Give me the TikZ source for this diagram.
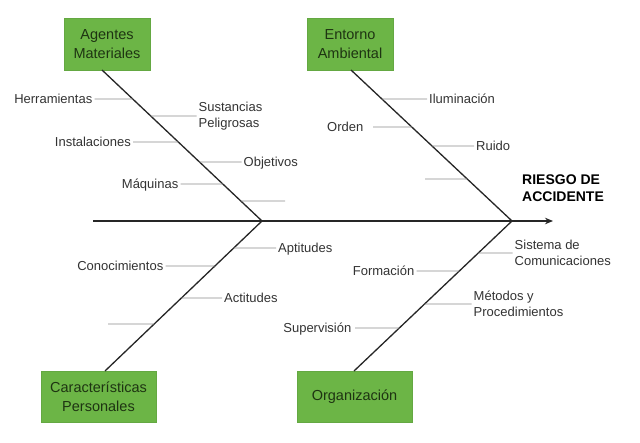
\documentclass[tikz,border=0pt]{standalone}
\usepackage{fontspec}
\setmainfont{Liberation Sans}
\usetikzlibrary{calc,arrows.meta}
\definecolor{boxgreen}{HTML}{6CB546}
\definecolor{boxedge}{HTML}{64A842}
\definecolor{cattext}{HTML}{1E3412}
\definecolor{lblcol}{HTML}{333333}
\definecolor{bonecol}{HTML}{262626}
\definecolor{twigcol}{HTML}{8C8C8C}
\tikzset{
  cat/.style={draw=boxedge, line width=0.8pt, fill=boxgreen, text=cattext,
    font=\fontsize{14.5}{19}\selectfont, align=center, inner sep=0pt},
  lbl/.style={font=\fontsize{13}{16.5}\selectfont, text=lblcol, inner sep=2pt,
    text height=9.4pt, text depth=0pt},
  mlbl/.style={font=\fontsize{13}{16.5}\selectfont, text=lblcol, inner sep=2pt, align=left},
  bone/.style={line width=1.3pt, draw=bonecol},
  twig/.style={line width=0.8pt, draw=twigcol},
  title/.style={font=\fontsize{14}{16.5}\selectfont\bfseries, text=black, align=left, inner sep=0pt}
}
\begin{document}
\begin{tikzpicture}[x=1pt,y=-1pt]
\useasboundingbox (0,0) rectangle (640,443);
\fill[white] (0,0) rectangle (640,443);

% category boxes
\node[cat, minimum width=86pt, minimum height=52pt] (AM) at (107,44) {Agentes\\Materiales};
\node[cat, minimum width=86pt, minimum height=52pt] (EA) at (350,44) {Entorno\\Ambiental};
\node[cat, minimum width=115pt, minimum height=51pt] (CP) at (98.5,396.5) {Características\\Personales};
\node[cat, minimum width=115pt, minimum height=51pt] (OR) at (354.5,396.5) {Organización};

% spine
\coordinate (tail) at (93,221);
\coordinate (head) at (553,221);
\coordinate (j1) at (262,221);
\coordinate (j2) at (512,221);
\draw[bone, -{Stealth[length=8pt,width=6.5pt]}] (tail) -- (head);

% bone start points on boxes
\coordinate (s1) at (102,70);
\coordinate (s2) at (351,70);
\coordinate (s3) at (105,371);
\coordinate (s4) at (354,371);
\draw[bone] (s1) -- (j1);
\draw[bone] (s2) -- (j2);
\draw[bone] (j1) -- (s3);
\draw[bone] (j2) -- (s4);

% title
\node[title, anchor=west] (RA) at (522,188) {RIESGO DE\\ACCIDENTE};

% --- Agentes Materiales
\node[lbl, anchor=east] (herr) at (94.5,99) {Herramientas};
\draw[twig] (herr.east) -- ($(s1)!0.1921!(j1)$);
\node[mlbl, anchor=west] (sust) at (196.5,116) {Sustancias\\Peligrosas};
\draw[twig] ($(s1)!0.3046!(j1)$) -- (sust.west);
\node[lbl, anchor=east] (inst) at (133,142) {Instalaciones};
\draw[twig] (inst.east) -- ($(s1)!0.4768!(j1)$);
\node[lbl, anchor=west] (obj) at (241.5,162) {Objetivos};
\draw[twig] ($(s1)!0.6093!(j1)$) -- (obj.west);
\node[lbl, anchor=east] (maq) at (180.5,184) {Máquinas};
\draw[twig] (maq.east) -- ($(s1)!0.7550!(j1)$);
\coordinate (am6) at (285,201);
\draw[twig] ($(s1)!0.8675!(j1)$) -- (am6);

% --- Entorno Ambiental
\node[lbl, anchor=west] (ilu) at (427,99) {Iluminación};
\draw[twig] ($(s2)!0.1921!(j2)$) -- (ilu.west);
\node[lbl, anchor=east] (ord) at (365.5,127) {Orden};
\coordinate (ordl) at (373,127);
\draw[twig] (ordl) -- ($(s2)!0.3775!(j2)$);
\node[lbl, anchor=west] (rui) at (474,146) {Ruido};
\draw[twig] ($(s2)!0.5033!(j2)$) -- (rui.west);
\coordinate (ea4) at (425,179);
\draw[twig] (ea4) -- ($(s2)!0.7219!(j2)$);

% --- Caracteristicas Personales
\node[lbl, anchor=west] (apt) at (276,248) {Aptitudes};
\draw[twig] ($(j1)!0.18!(s3)$) -- (apt.west);
\node[lbl, anchor=east] (con) at (165.5,266) {Conocimientos};
\draw[twig] (con.east) -- ($(j1)!0.30!(s3)$);
\node[lbl, anchor=west] (act) at (222,298) {Actitudes};
\draw[twig] ($(j1)!0.5133!(s3)$) -- (act.west);
\coordinate (cp4) at (108,324);
\draw[twig] (cp4) -- ($(j1)!0.6867!(s3)$);

% --- Organizacion
\node[mlbl, anchor=west] (sis) at (512.5,253) {Sistema de\\Comunicaciones};
\draw[twig] ($(j2)!0.2133!(s4)$) -- (sis.west);
\node[lbl, anchor=east] (for) at (416.5,271) {Formación};
\draw[twig] (for.east) -- ($(j2)!0.3333!(s4)$);
\node[mlbl, anchor=west] (met) at (471.5,304) {Métodos y\\Procedimientos};
\draw[twig] ($(j2)!0.5533!(s4)$) -- (met.west);
\node[lbl, anchor=east] (sup) at (353.5,328) {Supervisión};
\coordinate (supl) at (355,328);
\draw[twig] (supl) -- ($(j2)!0.7133!(s4)$);
\end{tikzpicture}
\end{document}
